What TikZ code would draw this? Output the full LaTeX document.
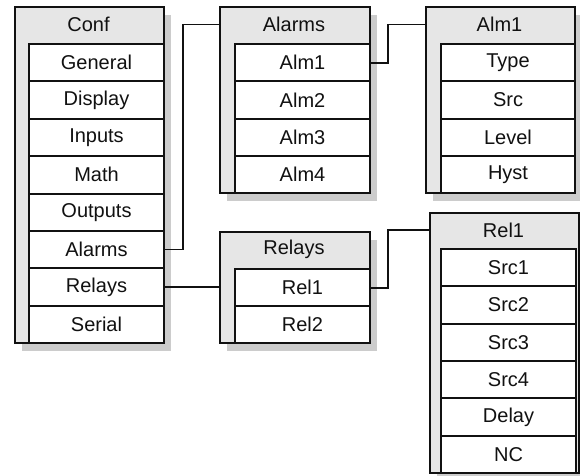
\documentclass[tikz,border=0pt]{standalone}
\usepackage{fontspec}
\setmainfont{Liberation Sans}
\usetikzlibrary{shadows}
\definecolor{hdrgray}{HTML}{E6E6E6}
\definecolor{shgray}{HTML}{CCCCCC}
\definecolor{ink}{HTML}{111111}
\tikzset{
  frame/.style={draw=ink, line width=2pt, fill=hdrgray, anchor=north west, inner sep=0pt,
    drop shadow={fill=shgray, opacity=1, shadow xshift=7pt, shadow yshift=-8pt}},
  hdrtext/.style={inner sep=0pt, font=\fontsize{20}{24}\selectfont, text=ink},
  rowbox/.style={draw=ink, line width=2pt, fill=white, anchor=north west, inner sep=0pt,
    minimum height=37.4pt, font=\fontsize{20}{24}\selectfont, text=ink},
  conn/.style={draw=ink, line width=1.6pt}
}
\begin{document}
\begin{tikzpicture}[x=1pt,y=-1pt]
\useasboundingbox (0,0) rectangle (580,475);
% Conf
\node[frame, minimum width=149pt, minimum height=336pt] (conf) at (14,6) {};
\node[hdrtext] (confT) at (88.5,24.5) {Conf};
\foreach \t [count=\i] in {General,Display,Inputs,Math,Outputs,Alarms,Relays,Serial}
  \node[rowbox, minimum width=135pt] (conf\i) at (28,{43+37.375*(\i-1)}) {\t};
% Alarms
\node[frame, minimum width=150pt, minimum height=186pt] (alarms) at (219,6) {};
\node[hdrtext] (alarmsT) at (294,24.5) {Alarms};
\foreach \t [count=\i] in {Alm1,Alm2,Alm3,Alm4}
  \node[rowbox, minimum width=135pt] (alarms\i) at (234,{43+37.25*(\i-1)}) {\t};
% Alm1
\node[frame, minimum width=149pt, minimum height=186pt] (almone) at (425,6) {};
\node[hdrtext] (almoneT) at (499.5,24.5) {Alm1};
\foreach \t [count=\i] in {Type,Src,Level,Hyst}
  \node[rowbox, minimum width=134pt] (almone\i) at (440,{43+37.25*(\i-1)}) {\t};
% Relays
\node[frame, minimum width=150pt, minimum height=111pt] (relays) at (219,231) {};
\node[hdrtext] (relaysT) at (294,249.5) {Relays};
\foreach \t [count=\i] in {Rel1,Rel2}
  \node[rowbox, minimum width=135pt] (relays\i) at (234,{268+37*(\i-1)}) {\t};
% Rel1
\node[frame, minimum width=149pt, minimum height=260pt] (relone) at (429,212) {};
\node[hdrtext] (reloneT) at (503.5,230) {Rel1};
\foreach \t [count=\i] in {Src1,Src2,Src3,Src4,Delay,NC}
  \node[rowbox, minimum width=135pt] (relone\i) at (440,{248+37.33*(\i-1)}) {\t};
% connectors
\coordinate (c1) at (183,0);
\coordinate (c2) at (388,0);
\draw[conn] (conf6.east) -| (c1 |- alarmsT) -- (alarms.west |- alarmsT);
\draw[conn] (conf7.east) -- (relays.west |- conf7.east);
\draw[conn] (alarms1.east) -| (c2 |- almoneT) -- (almone.west |- almoneT);
\draw[conn] (relays1.east) -| (c2 |- reloneT) -- (relone.west |- reloneT);
\end{tikzpicture}
\end{document}
